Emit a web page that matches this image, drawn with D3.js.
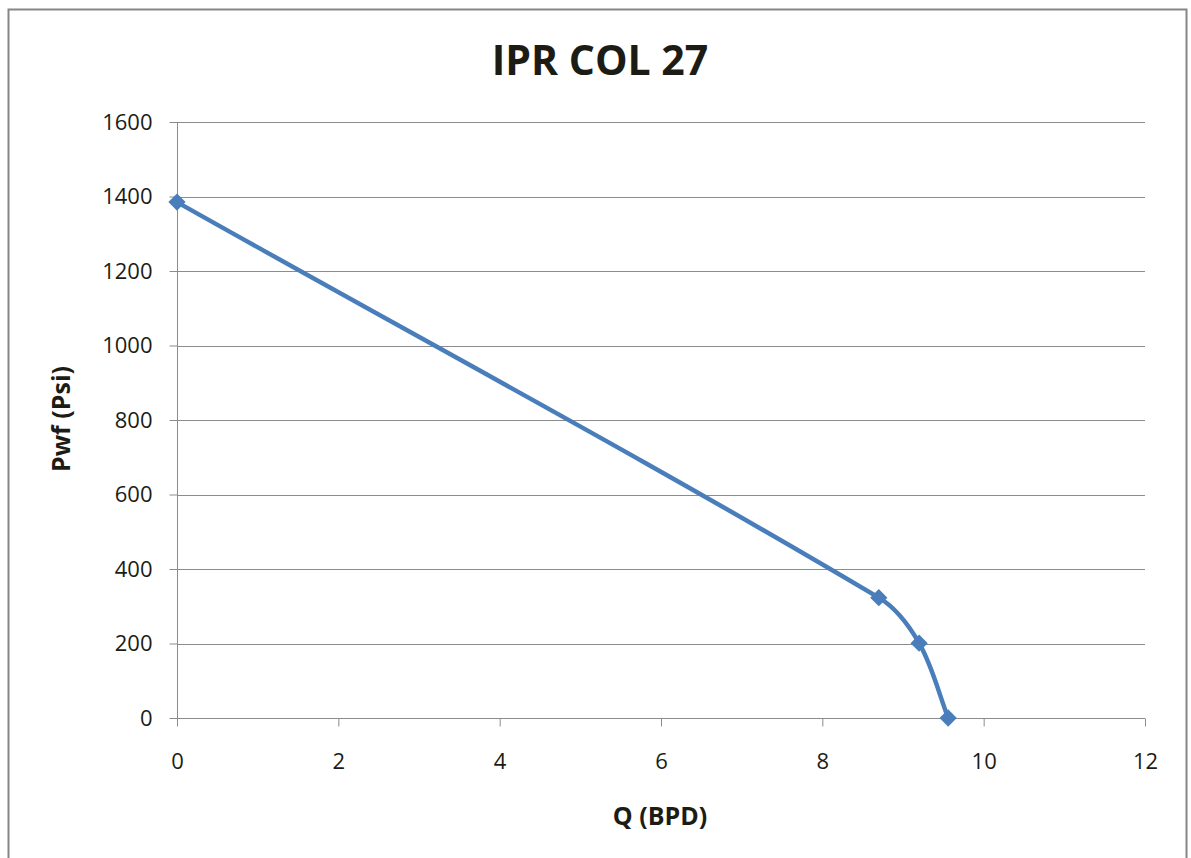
<!DOCTYPE html>
<html>
<head>
<meta charset="utf-8">
<script src="https://cdn.jsdelivr.net/npm/d3@7"></script>
<style>
  html, body { margin: 0; padding: 0; background: #fff; }
  svg { display: block; }
</style>
</head>
<body>
<svg id="chart" width="1191" height="858"></svg>
<script>
// IPR curve: flow rate Q (BPD) versus bottom-hole flowing pressure Pwf (psi)
const qValues = [0, 8.7, 9.2, 9.56];
const pwfValues = [1385, 323, 201, 0];
const xTicks = [0, 2, 4, 6, 8, 10, 12];
const yTicks = [0, 200, 400, 600, 800, 1000, 1200, 1400, 1600];
const chartTitle = "IPR COL 27";
const xTitle = "Q (BPD)";
const yTitle = "Pwf (Psi)";

const svg = d3.select("#chart");
const plot = { left: 177, right: 1145, top: 122, bottom: 718 };
const font = "'Open Sans', 'Liberation Sans', sans-serif";
const ink = "#1c1c14";

// outer chart frame
svg.append("rect")
  .attr("x", 8.5).attr("y", 9.5)
  .attr("width", 1178).attr("height", 870)
  .attr("fill", "#fff")
  .attr("stroke", "#868686").attr("stroke-width", 2);

const x = d3.scaleLinear().domain([0, 12]).range([plot.left, plot.right]);
const y = d3.scaleLinear().domain([0, 1600]).range([plot.bottom, plot.top]);

// horizontal gridlines
svg.append("g")
  .selectAll("line")
  .data(yTicks.filter(d => d > 0))
  .join("line")
  .attr("x1", x(0)).attr("x2", x(12))
  .attr("y1", d => Math.round(y(d)) + 0.5).attr("y2", d => Math.round(y(d)) + 0.5)
  .attr("stroke", "#8c8c8c").attr("stroke-width", 1);

// y axis
const yAxis = svg.append("g")
  .attr("transform", `translate(${Math.round(x(0)) + 0.5},0)`)
  .call(d3.axisLeft(y).tickValues(yTicks).tickSize(8).tickPadding(17).tickFormat(d3.format("d")));
yAxis.selectAll("line, path").attr("stroke", "#8c8c8c");
yAxis.select("path").attr("d", `M0,${y(1600)}V${y(0)}`);
yAxis.selectAll("text")
  .attr("font-family", font).attr("font-size", 22).attr("fill", ink);

// x axis
const xAxis = svg.append("g")
  .attr("transform", `translate(0,${Math.round(y(0)) + 0.5})`)
  .call(d3.axisBottom(x).tickValues(xTicks).tickSize(8).tickPadding(27).tickFormat(d3.format("d")));
xAxis.selectAll("line, path").attr("stroke", "#8c8c8c");
xAxis.select("path").attr("d", `M${x(0)},0H${x(12)}`);
xAxis.selectAll("text")
  .attr("font-family", font).attr("font-size", 22).attr("fill", ink);

// smoothed line: tangent direction from neighbouring points,
// control-point reach proportional to each segment's own length (no overshoot)
function smoothPath(p) {
  const unit = (a, b) => { const dx = b[0] - a[0], dy = b[1] - a[1], l = Math.hypot(dx, dy) || 1; return [dx / l, dy / l]; };
  const tan = p.map((pt, i) => unit(p[Math.max(0, i - 1)], p[Math.min(p.length - 1, i + 1)]));
  const path = d3.path();
  path.moveTo(p[0][0], p[0][1]);
  for (let i = 0; i < p.length - 1; i++) {
    const a = p[i], b = p[i + 1];
    const k = Math.hypot(b[0] - a[0], b[1] - a[1]) / 3;
    path.bezierCurveTo(a[0] + tan[i][0] * k, a[1] + tan[i][1] * k,
                       b[0] - tan[i + 1][0] * k, b[1] - tan[i + 1][1] * k,
                       b[0], b[1]);
  }
  return path.toString();
}

const pts = qValues.map((q, i) => [q, pwfValues[i]]);
svg.append("path")
  .attr("fill", "none")
  .attr("stroke", "#4a7ebb")
  .attr("stroke-width", 4.5)
  .attr("stroke-linejoin", "round")
  .attr("d", smoothPath(pts.map(d => [x(d[0]), y(d[1])])));

// diamond markers
svg.append("g")
  .selectAll("path")
  .data(pts)
  .join("path")
  .attr("transform", d => `translate(${x(d[0])},${y(d[1])})`)
  .attr("d", d3.symbol().type(d3.symbolDiamond2).size(190))
  .attr("fill", "#4a7ebb");

// titles
svg.append("text")
  .attr("x", 600).attr("y", 75)
  .attr("text-anchor", "middle")
  .attr("font-family", font).attr("font-weight", "bold").attr("font-size", 41)
  .attr("fill", ink)
  .text(chartTitle);

svg.append("text")
  .attr("x", 660).attr("y", 825)
  .attr("text-anchor", "middle")
  .attr("font-family", font).attr("font-weight", "bold").attr("font-size", 25)
  .attr("fill", ink)
  .text(xTitle);

svg.append("text")
  .attr("transform", `translate(70,419) rotate(-90)`)
  .attr("text-anchor", "middle")
  .attr("font-family", font).attr("font-weight", "bold").attr("font-size", 25)
  .attr("fill", ink)
  .text(yTitle);
</script>
</body>
</html>
